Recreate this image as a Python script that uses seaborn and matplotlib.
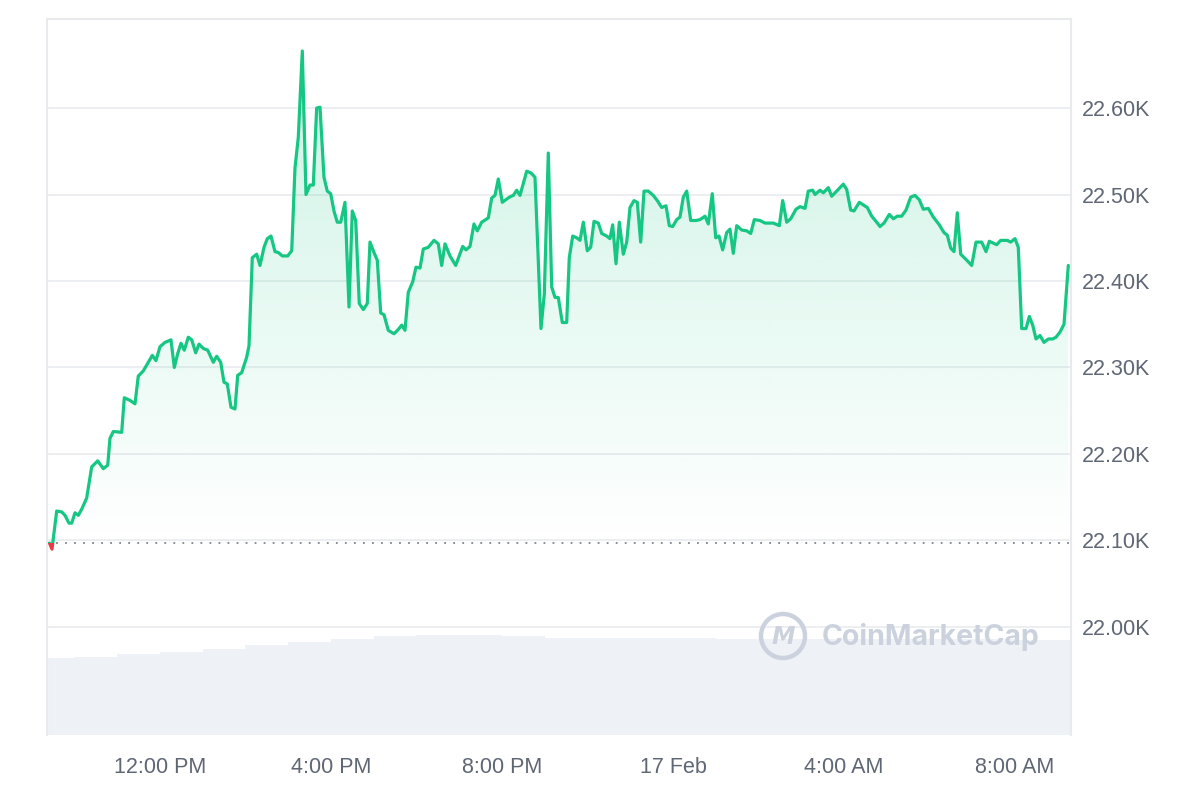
import numpy as np
import matplotlib
matplotlib.use("Agg")
import matplotlib.pyplot as plt
from matplotlib.patches import Rectangle, Ellipse
from matplotlib.ticker import FuncFormatter
import seaborn as sns

# price samples: hours since 16 Feb 00:00, price in USD
hours = [
    9.415, 9.474, 9.584, 9.701, 9.778, 9.871, 9.935, 10.012, 10.089, 10.168,
    10.285, 10.402, 10.543, 10.674, 10.777, 10.830, 10.908, 11.104, 11.165, 11.298,
    11.415, 11.492, 11.609, 11.726, 11.820, 11.906, 12.000, 12.117, 12.257, 12.335,
    12.414, 12.491, 12.568, 12.662, 12.742, 12.835, 12.912, 13.013, 13.116, 13.247,
    13.326, 13.420, 13.497, 13.574, 13.661, 13.754, 13.818, 13.911, 14.028, 14.082,
    14.159, 14.262, 14.339, 14.433, 14.510, 14.596, 14.690, 14.767, 14.861, 14.987,
    15.081, 15.158, 15.235, 15.329, 15.415, 15.509, 15.586, 15.665, 15.743, 15.836,
    15.913, 15.993, 16.070, 16.147, 16.227, 16.327, 16.421, 16.498, 16.578, 16.662,
    16.756, 16.849, 16.912, 17.006, 17.083, 17.163, 17.240, 17.340, 17.474, 17.574,
    17.654, 17.731, 17.808, 17.911, 17.988, 18.082, 18.159, 18.276, 18.409, 18.510,
    18.589, 18.667, 18.784, 18.917, 19.081, 19.158, 19.251, 19.345, 19.422, 19.525,
    19.680, 19.759, 19.836, 19.914, 20.007, 20.171, 20.264, 20.344, 20.421, 20.578,
    20.678, 20.772, 20.912, 20.990, 21.083, 21.163, 21.240, 21.317, 21.411, 21.513,
    21.574, 21.654, 21.747, 21.825, 21.902, 21.995, 22.075, 22.152, 22.253, 22.332,
    22.449, 22.526, 22.589, 22.667, 22.744, 22.838, 22.917, 22.994, 23.088, 23.165,
    23.244, 23.322, 23.422, 23.539, 23.633, 23.736, 23.836, 23.914, 23.993, 24.087,
    24.164, 24.241, 24.321, 24.414, 24.538, 24.632, 24.749, 24.826, 24.919, 24.999,
    25.076, 25.162, 25.256, 25.333, 25.411, 25.490, 25.607, 25.724, 25.818, 25.902,
    26.035, 26.152, 26.346, 26.487, 26.566, 26.660, 26.753, 26.877, 26.971, 27.088,
    27.165, 27.268, 27.322, 27.439, 27.516, 27.633, 27.712, 27.789, 27.906, 27.984,
    28.063, 28.157, 28.234, 28.358, 28.451, 28.545, 28.648, 28.765, 28.842, 28.936,
    29.060, 29.154, 29.247, 29.349, 29.450, 29.560, 29.661, 29.761, 29.855, 29.972,
    30.089, 30.229, 30.339, 30.417, 30.496, 30.573, 30.650, 30.730, 30.854, 30.987,
    31.088, 31.221, 31.322, 31.399, 31.572, 31.665, 31.820, 31.899, 32.000, 32.077,
    32.157, 32.257, 32.335, 32.414, 32.491, 32.585, 32.678, 32.779, 32.882, 32.959,
    33.053, 33.146, 33.247,
]
prices = [
    22097, 22090, 22134, 22133, 22129, 22120, 22120, 22132, 22129, 22136,
    22149, 22185, 22192, 22183, 22187, 22218, 22226, 22225, 22265, 22262,
    22258, 22290, 22296, 22306, 22314, 22308, 22324, 22329, 22332, 22300,
    22316, 22328, 22320, 22335, 22332, 22317, 22327, 22322, 22320, 22306,
    22313, 22306, 22283, 22281, 22254, 22252, 22291, 22294, 22312, 22325,
    22427, 22431, 22418, 22439, 22449, 22452, 22434, 22433, 22429, 22429,
    22435, 22531, 22566, 22666, 22500, 22511, 22511, 22600, 22601, 22520,
    22504, 22501, 22481, 22468, 22468, 22491, 22370, 22481, 22470, 22374,
    22367, 22374, 22445, 22433, 22424, 22363, 22361, 22343, 22339, 22344,
    22349, 22343, 22387, 22399, 22416, 22415, 22437, 22439, 22447, 22443,
    22418, 22443, 22429, 22418, 22440, 22436, 22440, 22466, 22458, 22468,
    22473, 22496, 22499, 22518, 22491, 22497, 22499, 22505, 22499, 22527,
    22525, 22520, 22345, 22385, 22548, 22393, 22381, 22381, 22352, 22352,
    22427, 22452, 22450, 22447, 22468, 22435, 22439, 22469, 22467, 22455,
    22452, 22449, 22465, 22420, 22468, 22431, 22445, 22485, 22493, 22491,
    22445, 22504, 22504, 22499, 22493, 22485, 22487, 22464, 22463, 22471,
    22474, 22497, 22504, 22470, 22470, 22471, 22475, 22466, 22501, 22450,
    22452, 22436, 22456, 22460, 22432, 22464, 22459, 22458, 22455, 22471,
    22470, 22467, 22467, 22464, 22493, 22468, 22472, 22483, 22486, 22484,
    22504, 22505, 22500, 22505, 22502, 22508, 22498, 22502, 22508, 22512,
    22506, 22482, 22481, 22491, 22488, 22485, 22475, 22468, 22463, 22467,
    22477, 22472, 22475, 22475, 22482, 22497, 22499, 22494, 22483, 22484,
    22474, 22465, 22456, 22453, 22438, 22434, 22479, 22431, 22425, 22418,
    22445, 22445, 22434, 22446, 22442, 22447, 22447, 22445, 22449, 22439,
    22345, 22345, 22359, 22349, 22333, 22337, 22329, 22333, 22333, 22335,
    22341, 22350, 22418,
]

# volume (USD billions), hourly bars
vol_hours = [9.5, 10.5, 11.5, 12.5, 13.5, 14.5, 15.5, 16.5, 17.5, 18.5, 19.5, 20.5,
             21.5, 22.5, 23.5, 24.5, 25.5, 26.5, 27.5, 28.5, 29.5, 30.5, 31.5, 32.5, 33.5]
vol_billions = [30.8, 31.2, 32.4, 33.4, 34.6, 36.0, 37.4, 38.6, 39.6, 40.2, 40.0, 39.8,
                39.0, 39.0, 39.0, 38.8, 38.6, 38.6, 38.4, 38.4, 38.4, 38.4, 38.4, 38.2, 38.2]

x_ticks = [12, 16, 20, 24, 28, 32]
x_labels = ["12:00 PM", "4:00 PM", "8:00 PM", "17 Feb", "4:00 AM", "8:00 AM"]
y_ticks = [22000, 22100, 22200, 22300, 22400, 22500, 22600]

GREEN = "#16c784"
RED = "#ea3943"
TXT = "#5f6674"
EDGE = "#e8eaee"

sns.set_theme(style="white")
plt.rcParams["font.family"] = ["Liberation Sans", "DejaVu Sans"]

fig = plt.figure(figsize=(12, 8), dpi=100)
rect = [47 / 1200, 65 / 800, 1024 / 1200, 716 / 800]
ax_vol = fig.add_axes(rect, zorder=0)
ax = fig.add_axes(rect, zorder=1)
ax.patch.set_visible(False)

x_min, x_max = 9.357, 33.31
y_min, y_max = 21875, 22703
base = prices[0]

# volume bars in the background
ax_vol.bar(vol_hours, vol_billions, width=1.0, color="#eef1f5", linewidth=0)
ax_vol.set_xlim(x_min, x_max)
ax_vol.set_ylim(0, 286.4)
ax_vol.axis("off")

# gradient fill under the price line
poly = ax.fill_between(hours, prices, base, facecolor="none", edgecolor="none")
grad = np.zeros((256, 1, 4))
grad[..., :3] = matplotlib.colors.to_rgb(GREEN)
grad[..., 3] = np.linspace(0.23, 0.0, 256)[:, None]
img = ax.imshow(grad, extent=[x_min, x_max, base, y_max], aspect="auto",
                origin="upper", zorder=1, interpolation="bilinear")
img.set_clip_path(poly.get_paths()[0], transform=ax.transData)

ax.axhline(base, color="#7d8596", linestyle=(0, (1, 4)), linewidth=1.3, zorder=2)

# price line: green above open, red below
n0 = len(ax.lines)
sns.lineplot(x=hours, y=prices, ax=ax, color=GREEN, linewidth=2.3,
             estimator=None, sort=False, zorder=4)
sns.lineplot(x=hours, y=prices, ax=ax, color=RED, linewidth=2.3,
             estimator=None, sort=False, zorder=4)
green_line, red_line = ax.lines[n0], ax.lines[n0 + 1]
green_line.set_clip_path(Rectangle((x_min - 1, base), 40, 5000, transform=ax.transData))
red_line.set_clip_path(Rectangle((x_min - 1, base - 5000), 40, 5000, transform=ax.transData))
for ln in (green_line, red_line):
    ln.set_solid_joinstyle("round")
    ln.set_solid_capstyle("round")

ax.set_xlim(x_min, x_max)
ax.set_ylim(y_min, y_max)
ax.set_xticks(x_ticks)
ax.set_xticklabels(x_labels)
ax.set_yticks(y_ticks)
ax.yaxis.set_major_formatter(FuncFormatter(lambda v, _: f"{v / 1000:.2f}K"))
ax.yaxis.tick_right()
ax.set_xlabel("")
ax.set_ylabel("")
ax.grid(axis="y", color="#eceef1", linewidth=1.4)
ax.grid(axis="x", visible=False)
ax.tick_params(axis="both", length=0, labelsize=15.5, labelcolor=TXT)
ax.tick_params(axis="x", pad=16)
ax.tick_params(axis="y", pad=8)
for side in ("left", "top", "right"):
    ax.spines[side].set_visible(True)
    ax.spines[side].set_color(EDGE)
    ax.spines[side].set_linewidth(1.5)
ax.spines["bottom"].set_visible(False)

# watermark
wm = "#cbd2de"
fig.add_artist(Ellipse((783 / 1200, 1 - 636 / 800), 44 / 1200, 44 / 800,
                       transform=fig.transFigure, facecolor="none",
                       edgecolor=wm, linewidth=3.2, zorder=5))
fig.text(783 / 1200, 1 - 637 / 800, "M", fontsize=17, fontweight="bold",
         fontstyle="italic", color=wm, ha="center", va="center", zorder=5,
         family=["DejaVu Sans"])
fig.text(822 / 1200, 1 - 637 / 800, "CoinMarketCap", fontsize=20.5, fontweight="bold",
         color=wm, ha="left", va="center", zorder=5, family=["Inter", "DejaVu Sans"])

fig.savefig("out.png", dpi=100, facecolor="white")
